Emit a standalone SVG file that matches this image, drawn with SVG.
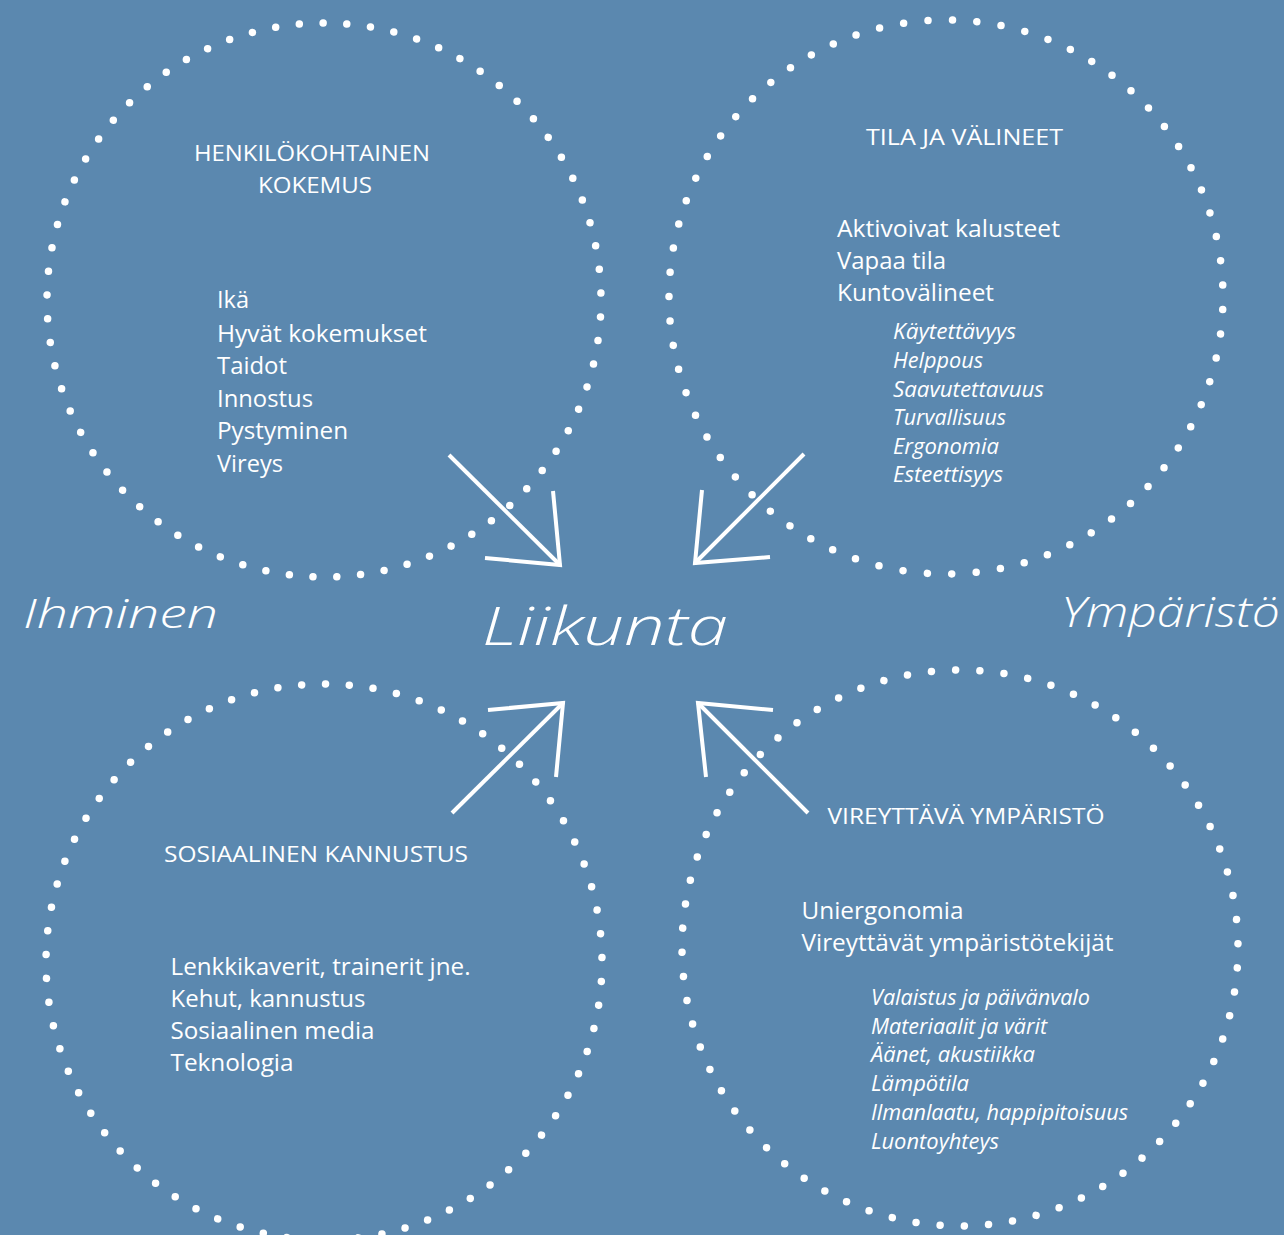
<svg xmlns="http://www.w3.org/2000/svg" width="1284" height="1235" viewBox="0 0 1284 1235">
  <style>
    .ring { fill: none; stroke: #ffffff; stroke-width: 7.5; stroke-linecap: round; stroke-dasharray: 0 1; }
    .arrow { fill: none; stroke: #ffffff; stroke-width: 4; stroke-linecap: butt; stroke-linejoin: miter; }
    .head { font-family: "Open Sans", "Noto Sans", sans-serif; font-size: 22px; fill: #ffffff; }
    .body { font-family: "Open Sans", "Noto Sans", sans-serif; font-size: 23.5px; fill: #ffffff; }
    .sub { font-family: "Open Sans", "Noto Sans", sans-serif; font-size: 21px; font-style: italic; fill: #ffffff; }
    .hand { font-family: "Open Sans", "Noto Sans", sans-serif; font-weight: 300; font-style: italic; fill: #ffffff; }
  </style>

  <rect x="0" y="0" width="1284" height="1235" fill="#5b88af"/>

  <!-- Personal experience -->
  <g id="henkilokohtainen">
    <circle class="ring" cx="0" cy="0" r="277" pathLength="73" transform="translate(324 300) rotate(3.5)"/>
    <text class="head" x="194" y="161" textLength="236" lengthAdjust="spacingAndGlyphs">HENKILÖKOHTAINEN</text>
    <text class="head" x="258" y="193" textLength="114" lengthAdjust="spacingAndGlyphs">KOKEMUS</text>
    <text class="body" x="217" y="308" textLength="32" lengthAdjust="spacingAndGlyphs">Ikä</text>
    <text class="body" x="217" y="341.5" textLength="210" lengthAdjust="spacingAndGlyphs">Hyvät kokemukset</text>
    <text class="body" x="217" y="373.5" textLength="70" lengthAdjust="spacingAndGlyphs">Taidot</text>
    <text class="body" x="217" y="406.5" textLength="96" lengthAdjust="spacingAndGlyphs">Innostus</text>
    <text class="body" x="217" y="439" textLength="131" lengthAdjust="spacingAndGlyphs">Pystyminen</text>
    <text class="body" x="217" y="471.5" textLength="66" lengthAdjust="spacingAndGlyphs">Vireys</text>
  </g>

  <!-- Space and equipment -->
  <g id="tila-ja-valineet">
    <circle class="ring" cx="0" cy="0" r="277" pathLength="71" transform="translate(946 297) rotate(2.6)"/>
    <text class="head" x="866" y="145" textLength="197" lengthAdjust="spacingAndGlyphs">TILA JA VÄLINEET</text>
    <text class="body" x="837" y="236.5" textLength="223" lengthAdjust="spacingAndGlyphs">Aktivoivat kalusteet</text>
    <text class="body" x="837" y="268.5" textLength="109" lengthAdjust="spacingAndGlyphs">Vapaa tila</text>
    <text class="body" x="837" y="300.5" textLength="157" lengthAdjust="spacingAndGlyphs">Kuntovälineet</text>
    <text class="sub" x="893" y="339" textLength="123" lengthAdjust="spacingAndGlyphs">Käytettävyys</text>
    <text class="sub" x="893" y="368" textLength="90" lengthAdjust="spacingAndGlyphs">Helppous</text>
    <text class="sub" x="893" y="396.5" textLength="151" lengthAdjust="spacingAndGlyphs">Saavutettavuus</text>
    <text class="sub" x="893" y="425" textLength="113" lengthAdjust="spacingAndGlyphs">Turvallisuus</text>
    <text class="sub" x="893" y="453.5" textLength="106" lengthAdjust="spacingAndGlyphs">Ergonomia</text>
    <text class="sub" x="893" y="482" textLength="110" lengthAdjust="spacingAndGlyphs">Esteettisyys</text>
  </g>

  <!-- Social encouragement -->
  <g id="sosiaalinen-kannustus">
    <circle class="ring" cx="0" cy="0" r="278" pathLength="73" transform="translate(324 962) rotate(4)"/>
    <text class="head" x="164" y="862" textLength="304" lengthAdjust="spacingAndGlyphs">SOSIAALINEN KANNUSTUS</text>
    <text class="body" x="170.5" y="975" textLength="300" lengthAdjust="spacingAndGlyphs">Lenkkikaverit, trainerit jne.</text>
    <text class="body" x="170.5" y="1006.5" textLength="195" lengthAdjust="spacingAndGlyphs">Kehut, kannustus</text>
    <text class="body" x="170.5" y="1038.5" textLength="204" lengthAdjust="spacingAndGlyphs">Sosiaalinen media</text>
    <text class="body" x="170.5" y="1070.5" textLength="123" lengthAdjust="spacingAndGlyphs">Teknologia</text>
  </g>

  <!-- Invigorating environment -->
  <g id="vireyttava-ymparisto">
    <circle class="ring" cx="0" cy="0" r="278" pathLength="72" transform="translate(960 948) rotate(4.1)"/>
    <text class="head" x="827.5" y="823.5" textLength="277" lengthAdjust="spacingAndGlyphs">VIREYTTÄVÄ YMPÄRISTÖ</text>
    <text class="body" x="801.5" y="918.5" textLength="162" lengthAdjust="spacingAndGlyphs">Uniergonomia</text>
    <text class="body" x="801.5" y="950.5" textLength="312" lengthAdjust="spacingAndGlyphs">Vireyttävät ympäristötekijät</text>
    <text class="sub" x="871" y="1004.5" textLength="219" lengthAdjust="spacingAndGlyphs">Valaistus ja päivänvalo</text>
    <text class="sub" x="871" y="1033.5" textLength="176" lengthAdjust="spacingAndGlyphs">Materiaalit ja värit</text>
    <text class="sub" x="871" y="1062" textLength="164" lengthAdjust="spacingAndGlyphs">Äänet, akustiikka</text>
    <text class="sub" x="871" y="1091" textLength="98" lengthAdjust="spacingAndGlyphs">Lämpötila</text>
    <text class="sub" x="871" y="1120" textLength="257" lengthAdjust="spacingAndGlyphs">Ilmanlaatu, happipitoisuus</text>
    <text class="sub" x="871" y="1148.5" textLength="128" lengthAdjust="spacingAndGlyphs">Luontoyhteys</text>
  </g>

  <!-- Centre and side labels, hand-lettered look -->
  <g id="liikunta">
    <text class="hand" x="482" y="645" font-size="54" textLength="246" lengthAdjust="spacingAndGlyphs">Liikunta</text>
  </g>
  <g id="ihminen">
    <text class="hand" x="23" y="628" font-size="40" textLength="195" lengthAdjust="spacingAndGlyphs">Ihminen</text>
  </g>
  <g id="ymparisto">
    <text class="hand" x="1061" y="627" font-size="42" textLength="219" lengthAdjust="spacingAndGlyphs">Ympäristö</text>
  </g>

  <!-- Arrows pointing in to the centre -->
  <g id="connectors">
    <line class="arrow" x1="449" y1="455" x2="560" y2="565"/>
    <polyline class="arrow" points="485,558 560,565 553,491"/>
    <line class="arrow" x1="804" y1="454" x2="695" y2="563"/>
    <polyline class="arrow" points="702,490 695,563 770,557"/>
    <line class="arrow" x1="452" y1="813" x2="563" y2="703"/>
    <polyline class="arrow" points="488,710 563,703 556,777"/>
    <line class="arrow" x1="808" y1="813" x2="698" y2="703"/>
    <polyline class="arrow" points="773,710 698,703 706,777"/>
  </g>
</svg>
